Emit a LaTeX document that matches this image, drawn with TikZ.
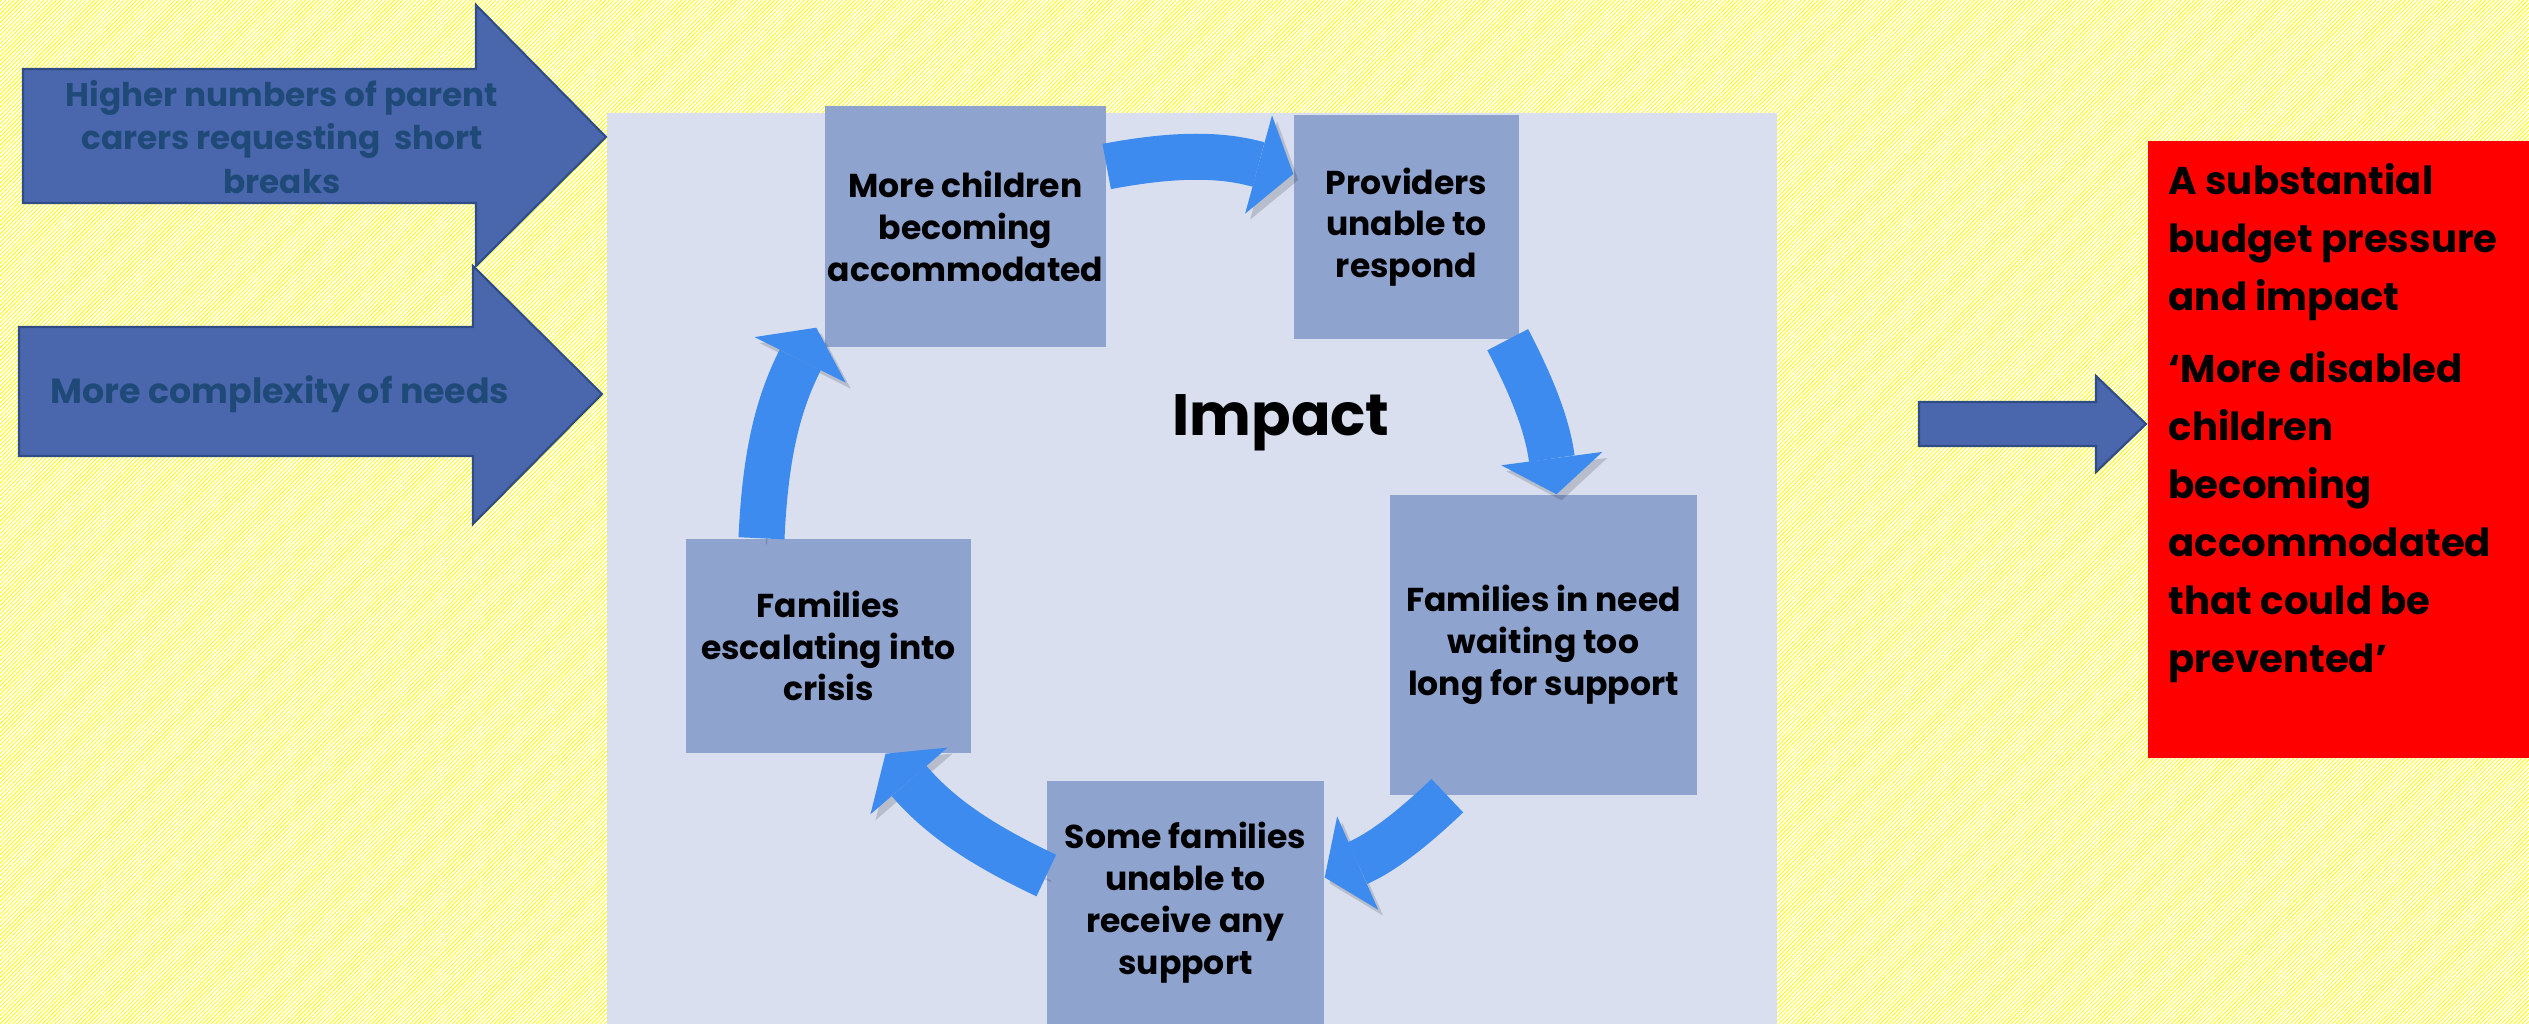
\documentclass[tikz,border=0pt]{standalone}
\usepackage{fontspec}
\setmainfont{Poppins}
\usetikzlibrary{arrows.meta}
\usetikzlibrary{patterns.meta}
\usetikzlibrary{fadings}
\usetikzlibrary{positioning}

\definecolor{panelblue}{HTML}{D9DFEF}
\definecolor{boxblue}{HTML}{8FA3CF}
\definecolor{inblue}{HTML}{4A67AE}
\definecolor{inedge}{HTML}{2F4C86}
\definecolor{intext}{HTML}{1F4A78}
\definecolor{cyclelight}{HTML}{3D8BEF}
\definecolor{cycledark}{HTML}{2672C2}

\tikzfading[name=midfade, left color=transparent!100, middle color=transparent!0, right color=transparent!100]

\begin{document}
\begin{tikzpicture}[x=0.1mm, y=-0.1mm,
    stage/.style={rectangle, fill=boxblue, align=center, inner sep=0pt,
        font=\fontsize{9.4}{11.9}\selectfont\bfseries},
    inflow/.style={fill=inblue, draw=inedge, line width=0.6pt, line join=miter},
    intext/.style={text=intext, align=center, font=\fontsize{9.3}{12.3}\selectfont\bfseries},
    cyclearrow/.style={draw=cyclelight, line width=4.6mm,
        -{Triangle[length=3.6mm, width=10.2mm, line width=0pt]},
        preaction={draw=black, opacity=0.15, transform canvas={shift={(0.5mm,-0.6mm)}}},
        postaction={draw=cycledark, -, shorten >=3.4mm, path fading=midfade, fading angle=#1}}]

    % hatched yellow page
    \fill[white] (0,0) rectangle (2529,1024);
    \fill[pattern={Lines[angle=45, distance=0.85pt, line width=0.22pt]}, pattern color=yellow] (0,0) rectangle (2529,1024);
    \useasboundingbox (0,0) rectangle (2529,1024);

    \node (panel) [fill=panelblue, minimum width=117mm, minimum height=91.2mm, anchor=north west, inner sep=0pt] at (606,112) {};

    % pressures coming in
    \filldraw[inflow] (23,69) -- (476,69) -- (476,5) -- (606,137) -- (476,266) -- (476,203) -- (23,203) -- cycle;
    \node (demand) [intext] at (282,137) {Higher numbers of parent\\carers requesting\ \ short\\breaks};

    \filldraw[inflow] (19,327) -- (473,327) -- (473,266) -- (602,394) -- (473,524) -- (473,456) -- (19,456) -- cycle;
    \node (needs) [intext, font=\fontsize{9.9}{12.3}\selectfont\bfseries] at (280,394) {More complexity of needs};

    % the cycle
    \node (accommodated) [stage, minimum width=28.1mm, minimum height=24.1mm] at (965.5,226.5) {More children\\becoming\\accommodated};
    \node (providers) [stage, minimum width=22.5mm, minimum height=22.4mm] at (1406.5,227) {Providers\\unable to\\respond};
    \node (waiting) [stage, minimum width=30.7mm, minimum height=30mm] at (1543.5,645) {Families in need\\waiting too\\long for support};
    \node (nosupport) [stage, minimum width=27.7mm, minimum height=24.3mm] at (1185.5,902.5) {Some families\\unable to\\receive any\\support};
    \node (crisis) [stage, minimum width=28.5mm, minimum height=21.4mm] at (828.5,646) {Families\\escalating into\\crisis};

    \node (impact) [font=\fontsize{16.6}{20}\selectfont\bfseries, anchor=base] at (1281,435) {Impact};

    \draw[cyclearrow=0] ([yshift=6mm]accommodated.east) to[bend left=13] ([yshift=5.3mm]providers.west);
    \draw[cyclearrow=-72] ([xshift=-1.2mm]providers.south east) to[bend left=10] ([xshift=1.3mm]waiting.north);
    \draw[cyclearrow=33] ([xshift=5.8mm]waiting.south west) to[bend left=10] ([yshift=2.5mm]nosupport.east);
    \draw[cyclearrow=142] ([yshift=2.7mm]nosupport.west) to[bend left=12] ([xshift=5.7mm]crisis.south);
    \draw[cyclearrow=75] ([xshift=-6.7mm]crisis.north) to[bend left=12] ([xshift=-0.8mm,yshift=2mm]accommodated.south west);

    % outcome
    \filldraw[inflow] (1919,402) -- (2096,402) -- (2096,376) -- (2146,424) -- (2096,472) -- (2096,446) -- (1919,446) -- cycle;

    \node (pressure) [fill=red, minimum width=38.2mm, minimum height=61.7mm, anchor=north west, inner sep=0pt] at (2147,140) {};
    \node (pressuretext) [anchor=north west, align=left, inner sep=0pt, font=\fontsize{11}{16.5}\selectfont\bfseries] at (2168,163)
        {A substantial\\budget pressure\\and impact\\[4pt]‘More disabled\\children\\becoming\\accommodated\\that could be\\prevented’};

\end{tikzpicture}
\end{document}
